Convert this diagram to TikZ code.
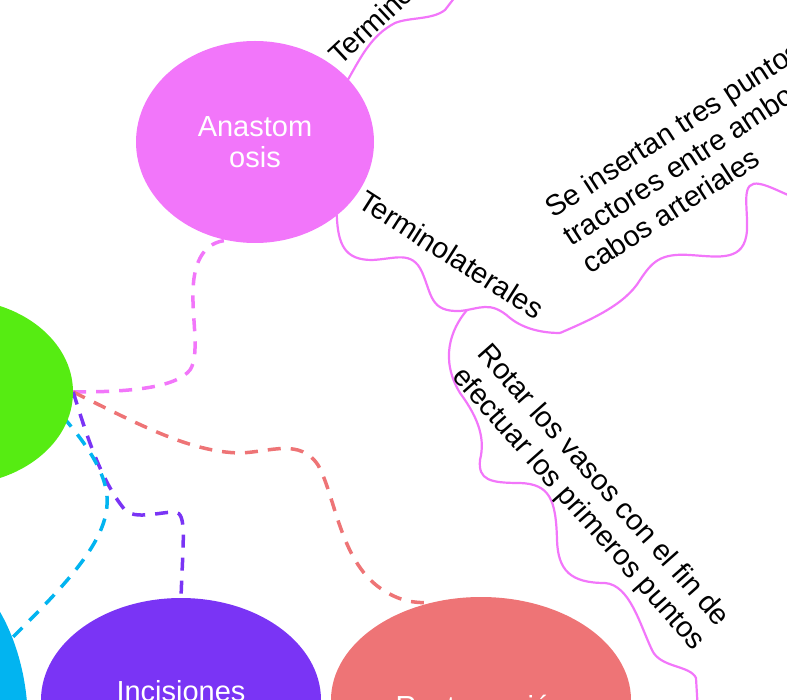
\documentclass[tikz,border=0pt]{standalone}
\usepackage{fontspec}
\setmainfont{Liberation Sans}
\usetikzlibrary{shapes.geometric}
\pgfdeclarelayer{bg}
\pgfsetlayers{bg,main}
\definecolor{cpink}{RGB}{242,118,250}
\definecolor{cgreen}{RGB}{86,236,18}
\definecolor{ccyan}{RGB}{2,180,240}
\definecolor{cpurple}{RGB}{122,52,245}
\definecolor{ccoral}{RGB}{238,116,118}
\begin{document}
\begin{tikzpicture}[x=1pt,y=-1pt,
  bubble/.style={ellipse, inner sep=0pt, text=white, font=\fontsize{29}{31}\selectfont, align=center},
  bubbletext/.style={inner sep=0pt, text=white, font=\fontsize{29}{31}\selectfont, anchor=base},
  lbl/.style={inner sep=0pt, font=\fontsize{29}{33.5}\selectfont, align=left, anchor=base west, text=black},
  dashlink/.style={line width=3.5pt, dash pattern=on 13pt off 10pt},
  wave/.style={line width=2.2pt, draw=cpink}]
\useasboundingbox (0,0) rectangle (787,700);
\clip (0,0) rectangle (787,700);
% nodes
\node[bubble, fill=cgreen, minimum width=236pt, minimum height=186pt] (main) at (-45,392) {};
\node[bubble, fill=cpink, minimum width=238pt, minimum height=202pt] (anast) at (255,142) {Anastom\\osis};
\node[bubble, fill=ccyan, minimum width=236pt, minimum height=350pt] (cyanb) at (-90,725) {};
\node[bubble, fill=cpurple, minimum width=280pt, minimum height=204pt] (incis) at (181,700) {};
\node[bubbletext] (incist) at (181,701) {Incisiones};
\node[bubble, fill=ccoral, minimum width=300pt, minimum height=206pt] (rest) at (481,700) {};
\node[bubbletext] (restt) at (481,716) {Restauración};
% labels (base anchor = baseline of the last line)
\node[lbl, rotate=43] (ttlbl) at (340,67) {Terminoterminales};
\node[lbl, rotate=-32.5] (tllbl) at (356,206) {Terminolaterales};
\node[lbl, rotate=33] (selbl) at (590,275) {Se insertan tres puntos\\tractores entre ambos\\cabos arteriales};
\node[lbl, rotate=-48.5] (rolbl) at (451,377) {Rotar los vasos con el fin de\\efectuar los primeros puntos};
\coordinate (cstart) at (50,402);
\coordinate (topend) at (462,-12);
\coordinate (tlend) at (560,333);
\coordinate (rofork) at (467,310);
\coordinate (seend) at (800,200);
\coordinate (roend) at (698,712);
\begin{pgfonlayer}{bg}
\draw[dashlink, draw=cpink] (main.east) .. controls (130,392) and (175,388) .. (190,370) .. controls (200,355) and (192,320) .. (193,290) .. controls (194,260) and (205,242) .. (anast.254);
\draw[dashlink, draw=ccoral] (main.east) .. controls (140,425) and (190,452) .. (240,453) .. controls (270,452) and (300,438) .. (318,465) .. controls (335,495) and (340,560) .. (380,588) .. controls (400,602) and (415,603) .. (rest.117);
\draw[dashlink, draw=cpurple] (main.east) .. controls (85,430) and (100,480) .. (125,510) .. controls (135,520) and (160,512) .. (175,512) .. controls (187,513) and (183,540) .. (incis.north);
\draw[dashlink, draw=ccyan] (main.center) -- (cstart) .. controls (75,430) and (110,470) .. (107,505) .. controls (105,545) and (60,590) .. (13,637) -- (cyanb.center);
\draw[wave] (anast.center) -- (anast.34) .. controls (362,55) and (372,35) .. (395,23) .. controls (410,17) and (432,20) .. (445,10) -- (topend);
\draw[wave] (anast.center) -- (anast.318) .. controls (338,245) and (345,260) .. (372,260) .. controls (395,259) and (412,250) .. (422,272) .. controls (432,295) and (430,312) .. (460,311) .. controls (480,309) and (490,300) .. (510,318) .. controls (525,330) and (545,333) .. (tlend);
\draw[wave] (tlend) .. controls (590,320) and (625,305) .. (640,280) .. controls (652,262) and (660,253) .. (690,255) .. controls (720,257) and (745,262) .. (747,230) .. controls (748,205) and (740,180) .. (760,184) .. controls (770,186) and (780,192) .. (seend);
\draw[wave] (rofork) .. controls (450,330) and (440,360) .. (460,393) .. controls (480,420) and (485,440) .. (480,460) .. controls (478,480) and (490,483) .. (520,483) .. controls (550,484) and (556,500) .. (557,540) .. controls (558,570) and (570,583) .. (605,583) .. controls (630,585) and (640,625) .. (652,650) .. controls (660,668) and (690,665) .. (696,678) -- (roend);
\end{pgfonlayer}
\end{tikzpicture}
\end{document}
